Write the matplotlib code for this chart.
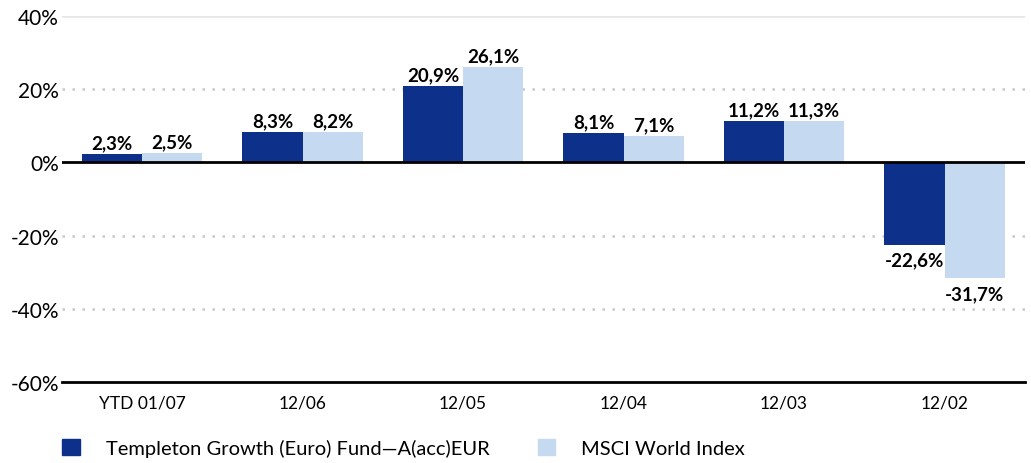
import numpy as np
import matplotlib.pyplot as plt
from matplotlib.patches import Patch

categories = ["YTD 01/07", "12/06", "12/05", "12/04", "12/03", "12/02"]
fund = [2.3, 8.3, 20.9, 8.1, 11.2, -22.6]
index = [2.5, 8.2, 26.1, 7.1, 11.3, -31.7]
series_names = ["Templeton Growth (Euro) Fund\u2014A(acc)EUR", "MSCI World Index"]
yticks = [-60, -40, -20, 0, 20, 40]

dark = "#0d318a"
light = "#c5daf1"

plt.rcParams["font.family"] = ["Lato", "DejaVu Sans"]

fig = plt.figure(figsize=(10.31, 4.64), dpi=100)
ax = fig.add_axes([0.060, 0.175, 0.934, 0.788])

x = np.arange(len(categories))
w = 0.375
b1 = ax.bar(x - w / 2, fund, w, color=dark, zorder=3)
b2 = ax.bar(x + w / 2, index, w, color=light, zorder=3)

def fmt(v):
    return f"{v:.1f}%".replace(".", ",")

for bars, vals in ((b1, fund), (b2, index)):
    for r, v in zip(bars, vals):
        cx = r.get_x() + r.get_width() / 2
        if v >= 0:
            ax.text(cx, v + 0.8, fmt(v), ha="center", va="bottom",
                    fontsize=13.5, fontweight="bold", zorder=4)
        else:
            ax.text(cx, v - 1.8, fmt(v), ha="center", va="top",
                    fontsize=13.5, fontweight="bold", zorder=4)

ax.set_xlim(-0.5, len(categories) - 0.5)
ax.set_ylim(-60, 40)
ax.set_yticks(yticks)
ax.set_yticklabels([f"{t}%" for t in yticks], fontsize=15)
ax.set_xticks(x)
ax.set_xticklabels(categories, fontsize=12.5)
ax.tick_params(axis="y", length=0, pad=2)
ax.tick_params(axis="x", length=0, pad=9)

for t in [-40, -20, 20]:
    ax.axhline(t, color="#c8c8c8", lw=1.8, ls=(0, (1, 3)), zorder=1)
ax.axhline(40, color="#e6e6e6", lw=1.8, zorder=1)
ax.axhline(0, color="black", lw=2, zorder=5)

for s in ["left", "right", "top"]:
    ax.spines[s].set_visible(False)
ax.spines["bottom"].set_color("black")
ax.spines["bottom"].set_linewidth(2)

# two legend entries placed separately
for c, name, xpos in zip([dark, light], series_names, [0.043, 0.504]):
    fig.legend([Patch(color=c)], [name], loc="lower left",
               bbox_to_anchor=(xpos, -0.027), frameon=False, fontsize=14.5,
               handlelength=0.85, handleheight=0.85, handletextpad=1.3)

fig.savefig("out.png", dpi=100)
